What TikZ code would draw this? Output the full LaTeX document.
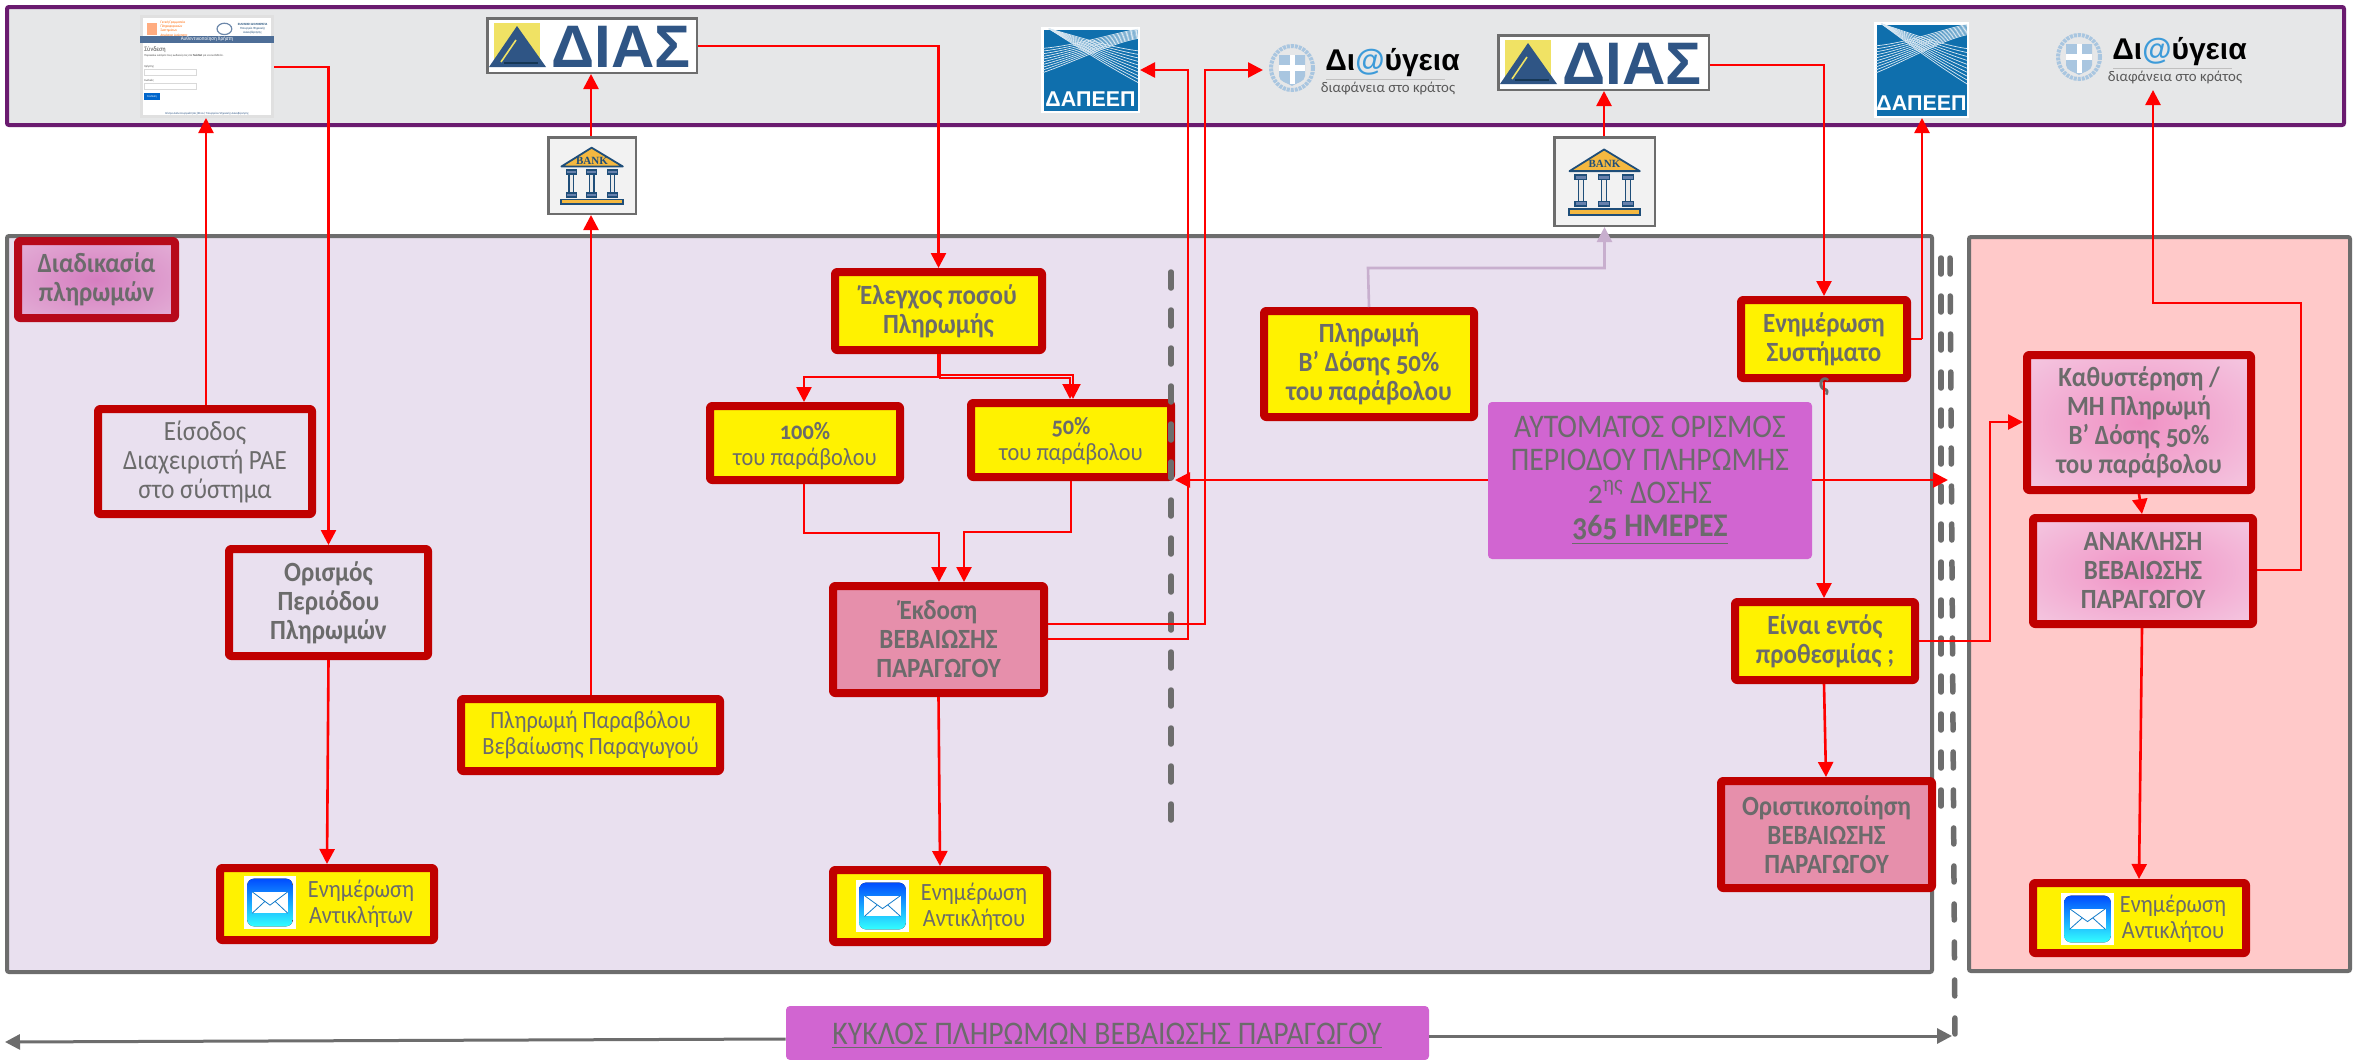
\documentclass[tikz,border=0pt]{standalone}
\usepackage{fontspec}
\setmainfont[Numbers=OldStyle,FakeStretch=0.9]{Carlito}
\newfontfamily\plainf{Carlito}
\newfontfamily\arialf{Liberation Sans}
\newfontfamily\serf{Liberation Serif}
\usetikzlibrary{arrows.meta,calc}
\definecolor{txtgray}{HTML}{6B6B6B}
\definecolor{panelgray}{HTML}{6D6D6D}
\definecolor{toppurple}{HTML}{6A1B6F}
\definecolor{topfill}{HTML}{E6E7E8}
\definecolor{mainfill}{HTML}{E9E0EF}
\definecolor{rightfill}{HTML}{FFC9C9}
\definecolor{darkred}{HTML}{C00000}
\definecolor{procred}{HTML}{B7091A}
\definecolor{rosefill}{HTML}{E68FAB}
\definecolor{violetfill}{HTML}{D165D1}
\definecolor{lilacline}{HTML}{C8AFCE}
\definecolor{diasblue}{HTML}{2F5585}
\definecolor{diasyellow}{HTML}{F0E264}
\definecolor{dapblue}{HTML}{0F6FAD}
\definecolor{banknavy}{HTML}{1F4E79}
\definecolor{bankorange}{HTML}{F4B840}
\definecolor{wreath}{HTML}{A9C6E0}
\definecolor{atblue}{HTML}{3D9BD9}
\definecolor{procin}{HTML}{D67EC0}
\definecolor{procout}{HTML}{E7BEDD}
\definecolor{latein}{HTML}{F091C4}
\definecolor{lateout}{HTML}{F5D2E6}
\pgfdeclareradialshading{softproc}{\pgfpoint{0bp}{0bp}}{color(0bp)=(procin);color(46bp)=(procout);color(100bp)=(procout)}
\pgfdeclareradialshading{softlate}{\pgfpoint{0bp}{0bp}}{color(0bp)=(latein);color(42bp)=(lateout);color(100bp)=(lateout)}
\tikzset{
  panel/.style={draw=panelgray,line width=2pt,inner sep=0pt,rounded corners=1pt},
  outbox/.style={draw=darkred,line width=4pt,inner sep=0pt,rounded corners=1pt,line join=round},
  yellowbox/.style={outbox,fill=yellow},
  rosebox/.style={outbox,fill=rosefill},
  violetbox/.style={fill=violetfill,inner sep=0pt,rounded corners=2pt},
  logobox/.style={draw=panelgray,line width=1.25pt,inner sep=0pt},
  lbl/.style={text=txtgray,align=center,inner sep=0pt,font=\fontsize{13.9}{14.5}\selectfont},
  lblb/.style={lbl,font=\fontsize{13.9}{14.5}\selectfont\bfseries},
  lbls/.style={lbl,font=\fontsize{12.4}{13}\selectfont},
  lblbig/.style={lbl,font=\fontsize{16.5}{16.5}\selectfont},
  flow/.style={draw=red,line width=1.3pt,-{Triangle[length=7.5pt,width=7.5pt]}},
  flowplain/.style={draw=red,line width=1.3pt},
  lilacflow/.style={draw=lilacline,line width=1.3pt,-{Triangle[length=7.5pt,width=7.5pt]}},
  cycle line/.style={draw=panelgray,line width=1.5pt,-{Triangle[length=7.5pt,width=7.5pt]}},
  divider/.style={draw=panelgray,line width=2.75pt,line cap=round,dash pattern=on 8pt off 11pt},
}
% box from outer corner coordinates, px units
\newcommand{\pbox}[8][8]{%
  \pgfmathsetmacro\pbw{(#5-#3-#1)*0.5}%
  \pgfmathsetmacro\pbh{(#6-#4-#1)*0.5}%
  \pgfmathsetmacro\pcx{(#3+#5)/2}%
  \pgfmathsetmacro\pcy{(#4+#6)/2}%
  \node[#7,minimum width=\pbw pt,minimum height=\pbh pt] (#2) at (\pcx,\pcy) {#8};}
\newcommand{\diaslogo}[5]{%
  \pbox[2.5]{#1}{#2}{#3}{#4}{#5}{logobox,fill=white}{}
  \begin{scope}[shift={(#2,#3)}]
    \fill[diasyellow] (8,6) rectangle (54,45);
    \fill[diasblue] (31,9) -- (60,50) -- (3,50) -- cycle;
    \draw[diasyellow,line width=.8pt] (30,23) -- (15,45);
    \draw[banknavy!70!black,line width=.8pt] (18,46) -- (52,46);
    \node[text=diasblue,inner sep=0pt,font=\fontsize{30}{30}\selectfont\arialf\bfseries] (#1t) at (135,29.5) {ΔΙΑΣ};
  \end{scope}}
\newcommand{\banklogo}[5]{%
  \pbox[2.5]{#1}{#2}{#3}{#4}{#5}{logobox,fill=black!5}{}
  \begin{scope}[shift={(#2,#3)},xscale={(#4-#2)/100},yscale={(#5-#3)/100}]
    \draw[banknavy,fill=bankorange,line width=.9pt,line join=round] (49.6,14.8) -- (84.3,38.6) -- (16,38.6) -- cycle;
    \node[text=banknavy,inner sep=0pt,font=\fontsize{5.5}{6}\selectfont\serf\bfseries] (#1t) at (50,31) {BANK};
    \foreach \cx in {27,49.6,72.8}{
      \draw[banknavy,fill=black!8,line width=.7pt] (\cx-2.5,46) rectangle (\cx+2.5,72);
      \draw[banknavy,fill=cyan!50!blue!50!gray,line width=.7pt] (\cx-5.5,43) rectangle (\cx+5.5,48);
      \draw[banknavy,fill=cyan!50!blue!50!gray,line width=.7pt] (\cx-5.5,72) rectangle (\cx+5.5,77);
    }
    \draw[banknavy,fill=bankorange,line width=.9pt] (15.5,80.5) rectangle (84.5,86.5);
  \end{scope}}
\newcommand{\daplogo}[5]{%
  \pbox[2.5]{#1}{#2}{#3}{#4}{#5}{draw=white,line width=1.25pt,inner sep=0pt,fill=dapblue}{}
  \begin{scope}[shift={(#2,#3)},xscale={(#4-#2)/100},yscale={(#5-#3)/100}]
    \begin{scope}
      \clip (2,2) rectangle (98,72);
      \foreach \i in {0,...,9}{
        \draw[white!85!dapblue,line width=.35pt] (0,{25+\i*3.2}) .. controls (35,{22+\i*2}) and (70,{8+\i*1.2}) .. (100,{2+\i*1.2});
        \draw[white!85!dapblue,line width=.35pt] (8,2) .. controls (40,{12+\i*1.5}) and (70,{24+\i*2.6}) .. (100,{28+\i*4.2});
      }
    \end{scope}
    \node[text=white,inner sep=0pt,font=\fontsize{10.7}{11}\selectfont\arialf\bfseries] (#1t) at (50,84) {ΔΑΠΕΕΠ};
  \end{scope}}
\newcommand{\diavlogo}[3]{%
  \coordinate (#1) at (#2,#3);
  \begin{scope}[shift={(#2,#3)}]
    \draw[wreath,line width=2pt,dash pattern=on 1.5pt off .5pt] (0,0) circle [x radius=21,y radius=22];
    \fill[wreath] (-13,-13) -- (13,-13) -- (13,8) .. controls (13,14) and (4,15) .. (0,18) .. controls (-4,15) and (-13,14) .. (-13,8) -- cycle;
    \fill[white] (-2.5,-13) rectangle (2.5,16);
    \fill[white] (-13,-3) rectangle (13,3);
    \node[anchor=base west,inner sep=0pt,font=\fontsize{15}{15}\selectfont\arialf\bfseries] (#1t) at (33,2) {Δι{\color{atblue}@}ύγεια};
    \draw[black!25,line width=.4pt] (34,11) -- (153,11);
    \node[inner sep=0pt,text=black!65,font=\fontsize{7.4}{8}\selectfont\plainf] (#1s) at (96,20) {διαφάνεια στο κράτος};
  \end{scope}}
\newcommand{\mailicon}[5]{%
  \pbox[0]{#1}{#2}{#3}{#4}{#5}{fill=white,inner sep=0pt}{}
  \begin{scope}[shift={(#2,#3)},xscale={(#4-#2)/100},yscale={(#5-#3)/100}]
    \fill[rounded corners=3.5pt,top color=blue!70!cyan,bottom color=cyan!80!white] (6,5) rectangle (94,95);
    \fill[white] (16,30) rectangle (84,70);
    \draw[cyan!60!blue,line width=.4pt] (16,30) -- (50,55) -- (84,30) (16,70) -- (40,48) (84,70) -- (60,48);
  \end{scope}}
\begin{document}
\begin{tikzpicture}[x=0.5pt,y=-0.5pt]
\useasboundingbox (0,0) rectangle (2356,1060);
\fill[white] (0,0) rectangle (2356,1060);
% panels
\pbox[4]{toppanel}{5}{5}{2346}{127}{panel,draw=toppurple,fill=topfill}{}
\pbox[4]{mainpanel}{5}{234}{1934}{974}{panel,fill=mainfill}{}
\pbox[4]{rightpanel}{1967}{235}{2352}{973}{panel,fill=rightfill}{}
% login thumbnail
\pbox[3]{login}{140}{15}{274}{118}{draw=black!12,line width=1.5pt,inner sep=0pt,fill=white}{}
\begin{scope}[shift={(140,15)},xscale=1.34,yscale=1.03]
  \fill[orange!70!red!50] (5,8) rectangle (13,19);
  \node[text=orange!80!red,inner sep=0pt,font=\fontsize{1.8}{2.1}\selectfont,align=left,anchor=west] (logintop) at (15,13.5) {Γενική Γραμματεία\\Πληροφοριακών\\Συστημάτων\\Δημόσιας Διοίκησης};
  \draw[diasblue!70,line width=.6pt] (63,13.5) circle [radius=5.5];
  \node[text=banknavy,inner sep=0pt,font=\fontsize{1.6}{2}\selectfont,align=center] (logintop2) at (84,13.5) {\bfseries ΕΛΛΗΝΙΚΗ ΔΗΜΟΚΡΑΤΙΑ\\Υπουργείο Ψηφιακής\\Διακυβέρνησης};
  \fill[diasblue!85!white] (0,20) rectangle (100,27);
  \node[text=white,inner sep=0pt,font=\fontsize{2.8}{3}\selectfont] (loginhead) at (50,23.5) {Αυθεντικοποίηση Χρήστη};
  \node[text=black!70,inner sep=0pt,anchor=west,font=\fontsize{3.4}{4}\selectfont] (loginsign) at (3,34) {Σύνδεση};
  \node[text=black!70,inner sep=0pt,anchor=west,font=\fontsize{1.5}{2}\selectfont] (loginmsg) at (3,39.5) {Παρακαλώ εισάγετε τους κωδικούς σας στο \textbf{TaxisNet} για να συνδεθείτε.};
  \node[text=black!70,inner sep=0pt,anchor=west,font=\fontsize{1.5}{2}\selectfont] (loginu) at (3,50) {Χρήστης:};
  \draw[black!15,line width=.3pt,fill=white] (3,53) rectangle (42,59);
  \node[text=black!70,inner sep=0pt,anchor=west,font=\fontsize{1.5}{2}\selectfont] (loginp) at (3,63.5) {Κωδικός:};
  \draw[black!15,line width=.3pt,fill=white] (3,66) rectangle (42,72);
  \fill[blue!50!cyan!80!black] (3,76) rectangle (15,83);
  \node[text=white,inner sep=0pt,font=\fontsize{1.5}{2}\selectfont] (loginb) at (9,79.5) {Σύνδεση};
  \node[text=diasblue,inner sep=0pt,font=\fontsize{1.5}{2}\selectfont] (loginf) at (50,96) {Κέντρο Διαλειτουργικότητας (ΚΕ.Δι.) Υπουργείου Ψηφιακής Διακυβέρνησης};
\end{scope}
% logos
\diaslogo{dias1}{486}{17}{698}{74}
\diaslogo{dias2}{1497}{34}{1710}{91}
\banklogo{bank1}{547}{136}{637}{215}
\banklogo{bank2}{1553}{136}{1656}{227}
\daplogo{dap1}{1041}{27}{1140}{113}
\daplogo{dap2}{1874}{22}{1969}{118}
\diavlogo{diav1}{1292}{68}
\diavlogo{diav2}{2079}{57}
% label box
\pbox[8]{proc}{14}{237}{179}{322}{outbox,draw=procred,shading=softproc}{}
\node[lblb] (proct) at (proc.center) {Διαδικασία\\πληρωμών};
% process boxes
\pbox{eisodos}{94}{405}{316}{518}{outbox}{}
\node[lbl] (eisodost) at (eisodos.center) {Είσοδος\\Διαχειριστή ΡΑΕ\\στο σύστημα};
\pbox{orismos}{225}{545}{432}{660}{outbox}{}
\node[lblb] (orismost) at (orismos.center) {Ορισμός\\Περιόδου\\Πληρωμών};
\pbox{parav}{457}{695}{724}{775}{yellowbox}{}
\node[lbls] (paravt) at (parav.center) {Πληρωμή Παραβόλου\\Βεβαίωσης Παραγωγού};
\pbox{notif1}{216}{864}{438}{944}{yellowbox}{}
\mailicon{mail1}{244}{876}{296}{929}
\node[lbls] (notif1t) at (361,904) {Ενημέρωση\\Αντικλήτων};
\pbox{elegxos}{831}{268}{1046}{354}{yellowbox}{}
\node[lblb] (elegxost) at (elegxos.center) {Έλεγχος ποσού\\Πληρωμής};
\pbox{full}{706}{402}{904}{484}{yellowbox}{}
\node[lbls] (fullt) at (805,446) {\textbf{100\%}\\του παράβολου};
\pbox{half}{967}{399}{1175}{481}{yellowbox}{}
\node[lbls] (halft) at (1071,441) {\textbf{50\%}\\του παράβολου};
\pbox{ekdosi}{829}{582}{1048}{697}{rosebox}{}
\node[lblb] (ekdosit) at (ekdosi.center) {Έκδοση\\ΒΕΒΑΙΩΣΗΣ\\ΠΑΡΑΓΩΓΟΥ};
\pbox{notif2}{829}{866}{1051}{946}{yellowbox}{}
\mailicon{mail2}{856}{880}{909}{932}
\node[lbls] (notif2t) at (974,907) {Ενημέρωση\\Αντικλήτου};
\pbox{pay2}{1260}{307}{1478}{421}{yellowbox}{}
\node[lblb] (pay2t) at (pay2.center) {Πληρωμή\\Β’ Δόσης 50\%\\του παράβολου};
\pbox[0]{auto}{1488}{402}{1812}{559}{violetbox}{}
\node[lblbig] (autot) at (auto.center) {ΑΥΤΟΜΑΤΟΣ ΟΡΙΣΜΟΣ\\ΠΕΡΙΟΔΟΥ ΠΛΗΡΩΜΗΣ\\2\textsuperscript{ης} ΔΟΣΗΣ\\\textbf{\underline{365 ΗΜΕΡΕΣ}}};
\pbox{sys}{1737}{296}{1911}{382}{yellowbox}{}
\node[lblb] (syst) at (sys.center) {Ενημέρωση\\Συστήματο};
\node[lblb] (sysx) at (1824,387) {ς};
\pbox{deadline}{1731}{598}{1919}{684}{yellowbox}{}
\node[lblb] (deadlinet) at (deadline.center) {Είναι εντός\\προθεσμίας ;};
\pbox{final}{1717}{777}{1936}{892}{rosebox}{}
\node[lblb] (finalt) at (final.center) {Οριστικοποίηση\\ΒΕΒΑΙΩΣΗΣ\\ΠΑΡΑΓΩΓΟΥ};
\pbox{late}{2023}{351}{2255}{494}{outbox,shading=softlate}{}
\node[lblb] (latet) at (late.center) {Καθυστέρηση /\\ΜΗ Πληρωμή\\Β’ Δόσης 50\%\\του παράβολου};
\pbox{revoke}{2029}{514}{2257}{628}{outbox,shading=softlate}{}
\node[lblb] (revoket) at (revoke.center) {ΑΝΑΚΛΗΣΗ\\ΒΕΒΑΙΩΣΗΣ\\ΠΑΡΑΓΩΓΟΥ};
\pbox{notif3}{2029}{879}{2250}{957}{yellowbox}{}
\mailicon{mail3}{2061}{893}{2114}{945}
\node[lbls] (notif3t) at (2173,918.5) {Ενημέρωση\\Αντικλήτου};
% cycle bar
\pbox[0]{cyclebox}{786}{1006}{1429}{1060}{violetbox}{}
\node[lblbig] (cyclet) at (1107,1036) {\underline{ΚΥΚΛΟΣ ΠΛΗΡΩΜΩΝ ΒΕΒΑΙΩΣΗΣ ΠΑΡΑΓΩΓΟΥ}};
% dividers
\coordinate (d1a) at (1171,272);
\coordinate (d1b) at (1171,821);
\coordinate (d2a) at (1941,258);
\coordinate (d2b) at (1941,807);
\coordinate (d3a) at (1950,258);
\coordinate (d3b) at (1955,1038);
\draw[divider] (d1a) -- (d1b);
\draw[divider] (d2a) -- (d2b);
\draw[divider] (d3a) -- (d3b);
% cycle arrows
\coordinate (cycL) at (5,1042);
\coordinate (cycR) at (1952,1036);
\draw[cycle line] (cyclebox.west |- 0,1039) -- (cycL);
\draw[cycle line] (cyclebox.east |- 0,1036) -- (cycR);
% connectors
\draw[flow] (eisodos.north -| 206,0) -- (login.south -| 206,0);
\draw[flow] (login.east |- 0,67) -| (orismos.north);
\draw[flow] (parav.north -| 591,0) -- (bank1.south -| 591,0);
\draw[flow] (bank1.north -| 591,0) -- (dias1.south -| 591,0);
\draw[flow] (dias1.east |- 0,46) -| (elegxos.north);
\draw[flow] (elegxos.south) -- (elegxos.south |- 0,377) -| (full.north -| 804,0);
\draw[flow,line width=1pt] (elegxos.south -| 940,0) -- (940,375) -| (half.north -| 1073,0);
\draw[flow,line width=1pt] (elegxos.south -| 940,0) -- (940,378) -| (half.north -| 1070,0);
\draw[flow] (full.south -| 804,0) -- (804,533) -| (ekdosi.north -| 939,0);
\draw[flow] (half.south -| 1071,0) -- (1071,532) -| (ekdosi.north -| 964,0);
\draw[flow] (ekdosi.east |- 0,639) -| (1188,70) -- (dap1.east |- 0,70);
\coordinate (diav1in) at (1263,70);
\draw[flow] (ekdosi.east |- 0,624) -| (1205,70) -- (diav1in);
\draw[flow] (ekdosi.south) -- (notif2.north -| 940,0);
\draw[flow] (orismos.south) -- (notif1.north);
\draw[flow] (auto.west |- 0,480) -- (half.east |- 0,480);
\coordinate (div2in) at (1948,480);
\draw[flow] (auto.east |- 0,480) -- (div2in);
\draw[lilacflow] (pay2.north) -- (1368,268) -| (bank2.south);
\draw[flow] (bank2.north -| 1604,0) -- (dias2.south -| 1604,0);
\draw[flow] (dias2.east |- 0,65) -| (sys.north);
\draw[flowplain] (sys.east |- 0,339) -- (1922,339);
\draw[flow] (1922,339) -- (dap2.south -| 1922,0);
\draw[flow] (sys.south) -- (deadline.north -| 1824,0);
\draw[flow] (deadline.east |- 0,641) -| (1990,422) -- (late.west |- 0,422);
\draw[flow] (deadline.south -| 1824,0) -- (final.north -| 1826,0);
\draw[flow] (late.south -| 2139,0) -- (revoke.north -| 2142,0);
\coordinate (diav2in) at (2153,90);
\draw[flow] (revoke.east |- 0,570) -| (2301,303) -| (diav2in);
\draw[flow] (revoke.south -| 2142,0) -- (notif3.north -| 2139,0);
\end{tikzpicture}
\end{document}
